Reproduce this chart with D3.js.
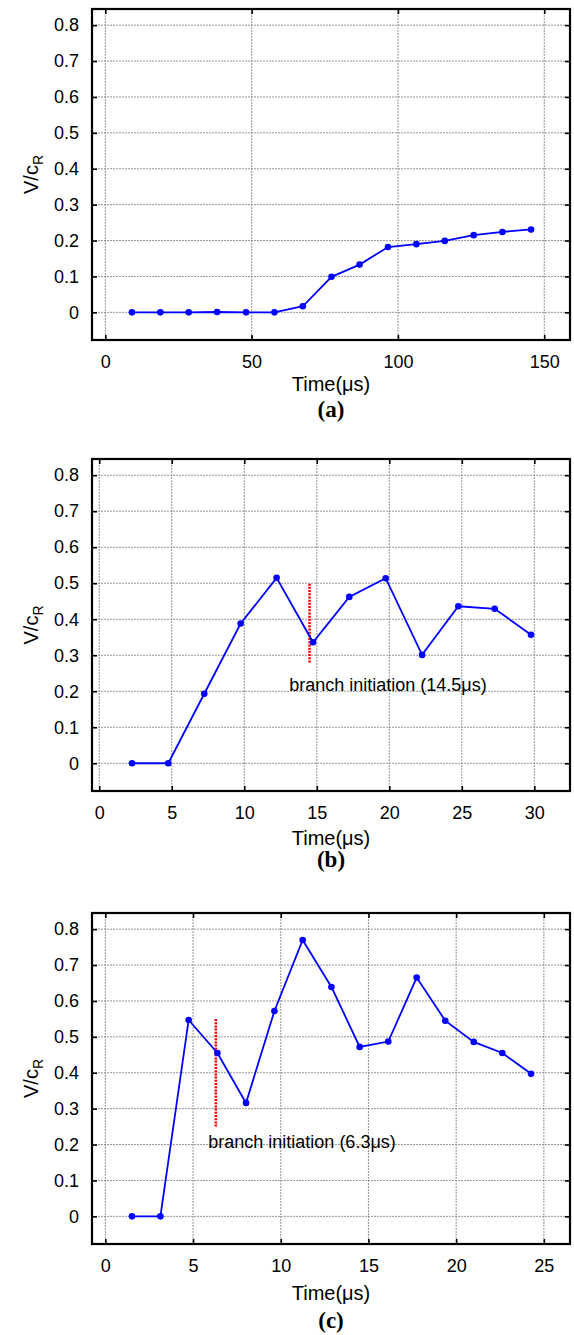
<!DOCTYPE html>
<html>
<head>
<meta charset="utf-8">
<script src="https://cdn.jsdelivr.net/npm/d3@7"></script>
<style>
  html, body { margin: 0; padding: 0; background: #fff; }
  svg { display: block; }
</style>
</head>
<body>
<svg id="chart" width="574" height="1335"></svg>
<script>
// ---------- data ----------
const yTicks = [0, 0.1, 0.2, 0.3, 0.4, 0.5, 0.6, 0.7, 0.8];
const yTickLabels = ["0", "0.1", "0.2", "0.3", "0.4", "0.5", "0.6", "0.7", "0.8"];

const timeA = [9.1, 18.8, 28.5, 38.2, 48.1, 57.8, 67.5, 77.3, 86.9, 96.6, 106.3, 116.0, 125.9, 135.7, 145.5];
const speedA = [0, 0, 0, 0.001, 0, 0, 0.017, 0.099, 0.133, 0.182, 0.190, 0.199, 0.215, 0.224, 0.231];
const xTicksA = [0, 50, 100, 150];

const timeB = [2.26, 4.76, 7.24, 9.75, 12.23, 14.74, 17.24, 19.75, 22.26, 24.76, 27.27, 29.77];
const speedB = [0, 0, 0.193, 0.388, 0.515, 0.336, 0.462, 0.514, 0.301, 0.436, 0.429, 0.357];
const xTicksB = [0, 5, 10, 15, 20, 25, 30];
const branchB = { t: 14.5, v0: 0.28, v1: 0.50, label: "branch initiation (14.5\u03bcs)", lx: 13.1, ly: 0.217 };

const timeC = [1.52, 3.14, 4.75, 6.39, 8.02, 9.64, 11.25, 12.89, 14.5, 16.13, 17.75, 19.38, 21.0, 22.63, 24.27];
const speedC = [0, 0, 0.547, 0.455, 0.316, 0.572, 0.770, 0.639, 0.472, 0.487, 0.665, 0.545, 0.486, 0.455, 0.397];
const xTicksC = [0, 5, 10, 15, 20, 25];
const branchC = { t: 6.3, v0: 0.25, v1: 0.55, label: "branch initiation (6.3\u03bcs)", lx: 5.87, ly: 0.207 };

const panelLabels = ["(a)", "(b)", "(c)"];
const xTitle = "Time(\u03bcs)";

// ---------- layout ----------
const panels = [
  { t: timeA, v: speedA, xt: xTicksA, xd: [-4.55, 158.8], top: 9,   bottom: 340,  branch: null,    titleOff: 51, labOff: 77 },
  { t: timeB, v: speedB, xt: xTicksB, xd: [-0.5, 32.46],  top: 459, bottom: 791,  branch: branchB, titleOff: 54, labOff: 76 },
  { t: timeC, v: speedC, xt: xTicksC, xd: [-0.76, 26.49], top: 913, bottom: 1244, branch: branchC, titleOff: 56, labOff: 84 }
];
const left = 92, right = 570;
const yDomain = [-0.077, 0.845];
const FONT = "'Liberation Sans', Arial, Helvetica, sans-serif";

const svg = d3.select("#chart");

panels.forEach((p, i) => {
  const x = d3.scaleLinear().domain(p.xd).range([left, right]);
  const y = d3.scaleLinear().domain(yDomain).range([p.bottom, p.top]);
  const g = svg.append("g");

  // grid
  g.append("g").selectAll("line").data(yTicks).join("line")
    .attr("x1", left).attr("x2", right)
    .attr("y1", d => y(d)).attr("y2", d => y(d))
    .attr("stroke", "#8a8a8a").attr("stroke-width", 0.9).attr("stroke-dasharray", "2,1");
  g.append("g").selectAll("line").data(p.xt).join("line")
    .attr("y1", p.top).attr("y2", p.bottom)
    .attr("x1", d => x(d)).attr("x2", d => x(d))
    .attr("stroke", "#8a8a8a").attr("stroke-width", 0.9).attr("stroke-dasharray", "2,1");

  // axes with inward ticks
  const tl = 5;
  g.append("g").attr("transform", `translate(0,${p.bottom})`)
    .call(d3.axisBottom(x).tickValues(p.xt).tickSize(-tl).tickPadding(tl + 10).tickFormat(d3.format("d")))
    .call(a => a.select(".domain").remove());
  g.append("g").attr("transform", `translate(0,${p.top})`)
    .call(d3.axisTop(x).tickValues(p.xt).tickSize(-tl).tickFormat(""))
    .call(a => a.select(".domain").remove());
  g.append("g").attr("transform", `translate(${left},0)`)
    .call(d3.axisLeft(y).tickValues(yTicks).tickSize(-tl).tickPadding(tl + 8).tickFormat((d, k) => yTickLabels[k]))
    .call(a => a.select(".domain").remove());
  g.append("g").attr("transform", `translate(${right},0)`)
    .call(d3.axisRight(y).tickValues(yTicks).tickSize(-tl).tickFormat(""))
    .call(a => a.select(".domain").remove());

  g.selectAll(".tick line").attr("stroke", "#000").attr("stroke-width", 1.6);
  g.selectAll(".tick text").attr("font-family", FONT).attr("font-size", 18).attr("fill", "#000");

  // frame
  g.append("rect").attr("x", left).attr("y", p.top)
    .attr("width", right - left).attr("height", p.bottom - p.top)
    .attr("fill", "none").attr("stroke", "#000").attr("stroke-width", 2.2);

  // branch marker
  if (p.branch) {
    const b = p.branch;
    g.append("line")
      .attr("x1", x(b.t)).attr("x2", x(b.t))
      .attr("y1", y(b.v0)).attr("y2", y(b.v1))
      .attr("stroke", "#ff0000").attr("stroke-width", 2.6).attr("stroke-dasharray", "2,1.2");
    g.append("text").attr("x", x(b.lx)).attr("y", y(b.ly)).attr("dy", "0.35em")
      .attr("font-family", FONT).attr("font-size", 18).attr("fill", "#000")
      .text(b.label);
  }

  // series
  const pts = p.t.map((t, k) => [t, p.v[k]]);
  g.append("path").datum(pts)
    .attr("fill", "none").attr("stroke", "#0000ff").attr("stroke-width", 1.8)
    .attr("d", d3.line().x(d => x(d[0])).y(d => y(d[1])));
  g.append("g").selectAll("circle").data(pts).join("circle")
    .attr("cx", d => x(d[0])).attr("cy", d => y(d[1])).attr("r", 3.3)
    .attr("fill", "#0000ff");

  // axis titles
  const cx = (left + right) / 2;
  g.append("text").attr("x", cx).attr("y", p.bottom + p.titleOff)
    .attr("text-anchor", "middle").attr("font-family", FONT).attr("font-size", 20)
    .text(xTitle);
  const cy = (p.top + p.bottom) / 2;
  const yl = g.append("text").attr("transform", `translate(38,${cy}) rotate(-90)`)
    .attr("text-anchor", "middle").attr("font-family", FONT).attr("font-size", 20);
  yl.append("tspan").text("V/c");
  yl.append("tspan").attr("font-size", 14).attr("dy", 5).text("R");

  // panel label
  g.append("text").attr("x", cx).attr("y", p.bottom + p.labOff)
    .attr("text-anchor", "middle").attr("font-family", "'Liberation Serif', 'Times New Roman', serif")
    .attr("font-weight", "bold").attr("font-size", 23)
    .text(panelLabels[i]);
});
</script>
</body>
</html>
